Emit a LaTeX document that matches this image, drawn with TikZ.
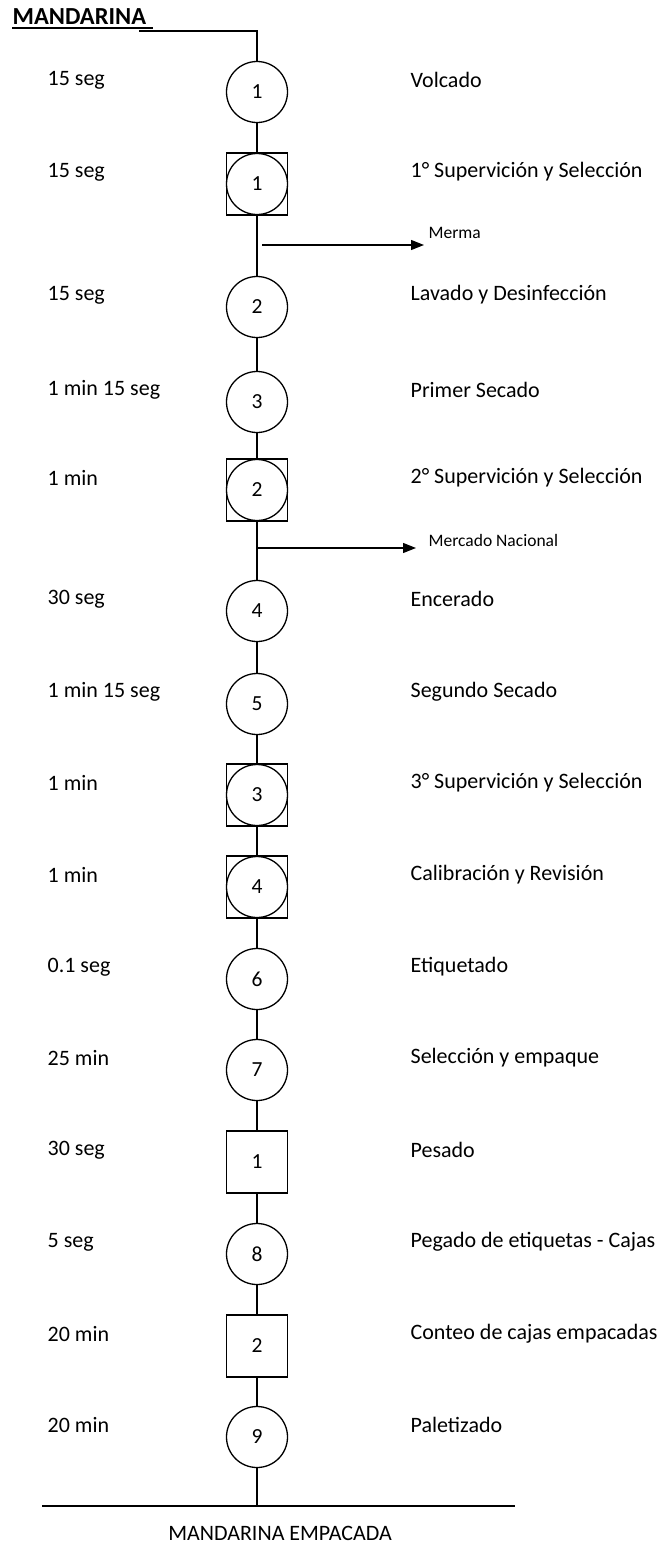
\documentclass[tikz,border=0pt]{standalone}
\usepackage{fontspec}
\setmainfont{Carlito}
\usetikzlibrary{arrows.meta}
\begin{document}
\begin{tikzpicture}[x=1pt,y=-1pt,
  line width=1.3pt,
  opcirc/.style={draw,circle,minimum size=61pt,inner sep=0pt,font=\fontsize{21.5}{25}\selectfont},
  inspbox/.style={draw,rectangle,minimum width=61pt,minimum height=62pt,inner sep=0pt,font=\fontsize{21.5}{25}\selectfont},
  timelbl/.style={anchor=west,font=\fontsize{22}{26}\selectfont,inner sep=0pt},
  steplbl/.style={anchor=west,font=\fontsize{22}{26}\selectfont,inner sep=0pt},
  outlbl/.style={anchor=west,font=\fontsize{17.5}{21}\selectfont,inner sep=0pt},
  outarrow/.style={-{Triangle[length=13pt,width=10pt]}}]
\useasboundingbox (0,0) rectangle (671,1543);

% title
\node[anchor=base west,inner sep=0pt,font=\fontsize{24.5}{28}\selectfont\bfseries] (title) at (12,24) {MANDARINA};
\draw[line width=1.3pt] (12,28) -- (153,28);
\coordinate (t0) at (139,31);

% process symbols
\node[opcirc] (c1) at (257,92) {1};
\node[inspbox] (s1) at (257,184) {};
\node[opcirc] (sc1) at (257,184) {1};
\node[opcirc] (c2) at (257,307) {2};
\node[opcirc] (c3) at (257,402) {3};
\node[inspbox] (s2) at (257,490) {};
\node[opcirc] (sc2) at (257,490) {2};
\node[opcirc] (c4) at (257,611) {4};
\node[opcirc] (c5) at (257,704) {5};
\node[inspbox] (s3) at (257,795) {};
\node[opcirc] (sc3) at (257,795) {3};
\node[inspbox] (s4) at (257,887) {};
\node[opcirc] (sc4) at (257,887) {4};
\node[opcirc] (c6) at (257,979) {6};
\node[opcirc] (c7) at (257,1070) {7};
\node[inspbox] (p1) at (257,1162) {1};
\node[opcirc] (c8) at (257,1254) {8};
\node[inspbox] (p2) at (257,1346) {2};
\node[opcirc] (c9) at (257,1437) {9};

% flow line
\draw (t0) -| (c1.north);
\draw (c1) -- (s1);
\draw (s1) -- (c2);
\draw (c2) -- (c3);
\draw (c3) -- (s2);
\draw (s2) -- (c4);
\draw (c4) -- (c5);
\draw (c5) -- (s3);
\draw (s3) -- (s4);
\draw (s4) -- (c6);
\draw (c6) -- (c7);
\draw (c7) -- (p1);
\draw (p1) -- (c8);
\draw (c8) -- (p2);
\draw (p2) -- (c9);

% side outputs
\coordinate (m0) at (262,245);
\coordinate (m1) at (424,245);
\draw[outarrow] (m0) -- (m1);
\node[outlbl] (merma) at (428,233) {Merma};
\coordinate (n0) at (258,548);
\coordinate (n1) at (416,548);
\draw[outarrow] (n0) -- (n1);
\node[outlbl] (nac) at (428,540) {Mercado Nacional};

% end product
\coordinate (b0) at (42,1506);
\coordinate (b1) at (515,1506);
\coordinate (bm) at (257,1506);
\draw[line width=2.3pt] (b0) -- (b1);
\draw (c9) -- (bm);
\node[font=\fontsize{22}{26}\selectfont,inner sep=0pt] (prod) at (280,1533) {MANDARINA EMPACADA};

% times
\node[timelbl] (t1) at (47,80) {15 seg};
\node[timelbl] (t2) at (47,172) {15 seg};
\node[timelbl] (t3) at (47,295) {15 seg};
\node[timelbl] (t4) at (47,390) {1 min 15 seg};
\node[timelbl] (t5) at (47,478) {1 min};
\node[timelbl] (t6) at (47,599) {30 seg};
\node[timelbl] (t7) at (47,692) {1 min 15 seg};
\node[timelbl] (t8) at (47,783) {1 min};
\node[timelbl] (t9) at (47,875) {1 min};
\node[timelbl] (t10) at (47,967) {0.1 seg};
\node[timelbl] (t11) at (47,1058) {25 min};
\node[timelbl] (t12) at (47,1150) {30 seg};
\node[timelbl] (t13) at (47,1242) {5 seg};
\node[timelbl] (t14) at (47,1334) {20 min};
\node[timelbl] (t15) at (47,1425) {20 min};

% step names
\node[steplbl] (d1) at (410,80) {Volcado};
\node[steplbl] (d2) at (410,172) {1° Supervición y Selección};
\node[steplbl] (d3) at (410,295) {Lavado y Desinfección};
\node[steplbl] (d4) at (410,390) {Primer Secado};
\node[steplbl] (d5) at (410,478) {2° Supervición y Selección};
\node[steplbl] (d6) at (410,599) {Encerado};
\node[steplbl] (d7) at (410,692) {Segundo Secado};
\node[steplbl] (d8) at (410,783) {3° Supervición y Selección};
\node[steplbl] (d9) at (410,875) {Calibración y Revisión};
\node[steplbl] (d10) at (410,967) {Etiquetado};
\node[steplbl] (d11) at (410,1058) {Selección y empaque};
\node[steplbl] (d12) at (410,1150) {Pesado};
\node[steplbl] (d13) at (410,1242) {Pegado de etiquetas - Cajas};
\node[steplbl] (d14) at (410,1334) {Conteo de cajas empacadas};
\node[steplbl] (d15) at (410,1425) {Paletizado};
\end{tikzpicture}
\end{document}
